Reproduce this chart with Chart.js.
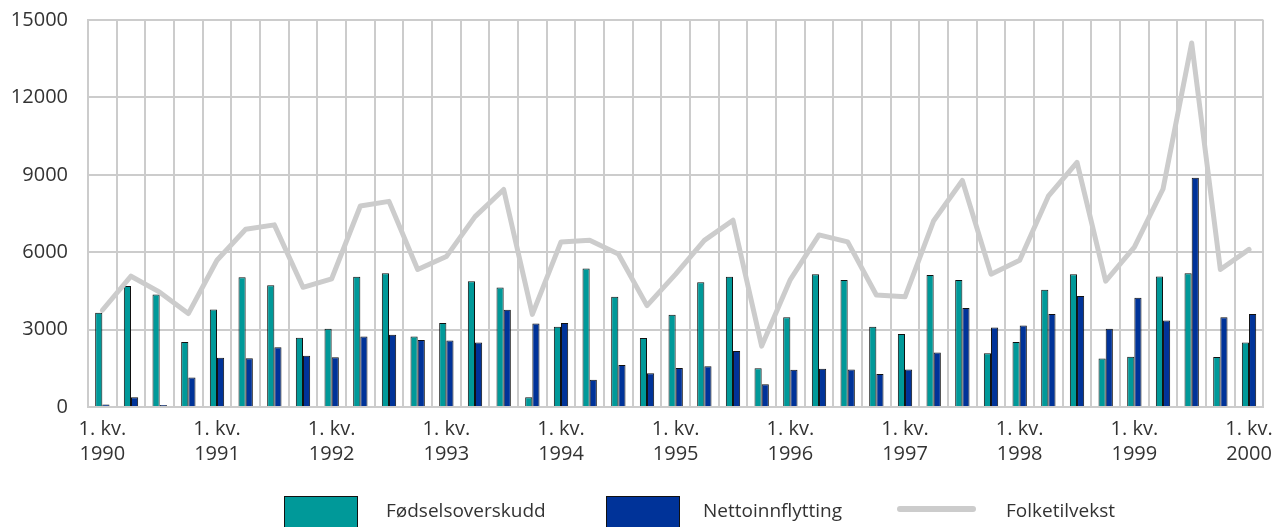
<!DOCTYPE html>
<html lang="no">
<head>
<meta charset="utf-8">
<title>Folketilvekst 1990-2000</title>
<script src="https://cdn.jsdelivr.net/npm/chart.js@4/dist/chart.umd.min.js"></script>
<style>
    body { margin: 0; background: #fff; }
    #wrap { position: relative; width: 1283px; height: 527px; overflow: hidden; }
    #legend { position: absolute; left: 0; top: 0; width: 1283px; height: 527px; pointer-events: none;
              font-family: 'Open Sans', sans-serif; font-size: 19px; color: #333; }
    .box { position: absolute; top: 496px; width: 74px; height: 40px; border: 1px solid #111; box-sizing: border-box; }
    .txt { position: absolute; top: 497px; line-height: 26px; white-space: nowrap; }
    .ln { position: absolute; top: 506px; height: 6px; border-radius: 3px; background: #cccccc; }
</style>
</head>
<body>
<div id="wrap">
    <canvas id="chart"></canvas>
    <div id="legend">
        <div class="box" style="left:284px;background:#009999"></div>
        <div class="txt" style="left:386px">Fødselsoverskudd</div>
        <div class="box" style="left:606px;background:#003399"></div>
        <div class="txt" style="left:703px">Nettoinnflytting</div>
        <div class="ln" style="left:897px;width:79px"></div>
        <div class="txt" style="left:1006px">Folketilvekst</div>
    </div>
</div>
<script>
// Kvartaler 1990 K1 - 2000 K1
const kvartaler = [
    '1990K1', '1990K2', '1990K3', '1990K4',
    '1991K1', '1991K2', '1991K3', '1991K4',
    '1992K1', '1992K2', '1992K3', '1992K4',
    '1993K1', '1993K2', '1993K3', '1993K4',
    '1994K1', '1994K2', '1994K3', '1994K4',
    '1995K1', '1995K2', '1995K3', '1995K4',
    '1996K1', '1996K2', '1996K3', '1996K4',
    '1997K1', '1997K2', '1997K3', '1997K4',
    '1998K1', '1998K2', '1998K3', '1998K4',
    '1999K1', '1999K2', '1999K3', '1999K4',
    '2000K1'
];

const fodselsoverskudd = [
    3650, 4690, 4360, 2520, 3780, 5030, 4720, 2680, 3030, 5050,
    5180, 2730, 3260, 4870, 4630, 380, 3110, 5370, 4270, 2670,
    3580, 4840, 5050, 1500, 3480, 5150, 4920, 3110, 2830, 5120,
    4920, 2080, 2520, 4540, 5150, 1880, 1950, 5060, 5180, 1940,
    2500
];

const nettoinnflytting = [
    100, 380, 80, 1140, 1910, 1890, 2320, 1990, 1930, 2730,
    2800, 2600, 2580, 2500, 3770, 3240, 3260, 1060, 1630, 1310,
    1510, 1580, 2170, 880, 1440, 1480, 1450, 1280, 1450, 2110,
    3840, 3080, 3160, 3600, 4300, 3030, 4230, 3350, 8890, 3480,
    3600
];

const folketilvekst = [
    3750, 5070, 4450, 3620, 5690, 6890, 7060, 4640, 4970, 7790,
    7970, 5330, 5830, 7380, 8430, 3590, 6400, 6460, 5930, 3930,
    5150, 6460, 7240, 2360, 4940, 6670, 6400, 4340, 4270, 7220,
    8780, 5150, 5690, 8170, 9480, 4880, 6200, 8450, 14110, 5330,
    6110
];

const yTicks = [0, 3000, 6000, 9000, 12000, 15000];

const gridColor = '#cccccc';
const textColor = '#333333';

// Etikett kun for 1. kvartal
function kvartalLabel(value, index) {
    const k = kvartaler[index];
    if (k.endsWith('K1')) {
        return ['1. kv.', k.slice(0, 4)];
    }
    return '';
}

const ctx = document.getElementById('chart').getContext('2d');

new Chart(ctx, {
    type: 'bar',
    data: {
        labels: kvartaler,
        datasets: [{
            label: 'Fødselsoverskudd',
            data: fodselsoverskudd,
            backgroundColor: '#009999',
            borderColor: '#111111',
            borderWidth: 1,
            order: 1
        }, {
            label: 'Nettoinnflytting',
            data: nettoinnflytting,
            backgroundColor: '#003399',
            borderColor: '#111111',
            borderWidth: 1,
            order: 1
        }, {
            type: 'line',
            label: 'Folketilvekst',
            data: folketilvekst,
            borderColor: gridColor,
            borderWidth: 5,
            borderJoinStyle: 'round',
            borderCapStyle: 'round',
            pointRadius: 0,
            tension: 0,
            order: 0
        }]
    },
    options: {
        responsive: true,
        maintainAspectRatio: false,
        animation: false,
        categoryPercentage: 0.5,
        barPercentage: 1.0,
        layout: {
            padding: { top: 20, right: 13, bottom: 0, left: 0 }
        },
        plugins: {
            legend: { display: false },
            tooltip: { enabled: false }
        },
        scales: {
            x: {
                offset: true,
                grid: {
                    offset: true,
                    color: gridColor,
                    lineWidth: 2,
                    drawTicks: false
                },
                border: { color: gridColor, width: 2 },
                ticks: {
                    autoSkip: false,
                    maxRotation: 0,
                    minRotation: 0,
                    padding: 10,
                    color: textColor,
                    font: { family: "'Open Sans', sans-serif", size: 20, lineHeight: 1.25 },
                    callback: kvartalLabel
                },
                afterFit: function(scale) { scale.height = 120; }
            },
            y: {
                min: 0,
                max: 15000,
                grid: {
                    color: gridColor,
                    lineWidth: 2,
                    drawTicks: false
                },
                border: { color: gridColor, width: 2 },
                afterBuildTicks: function(scale) {
                    scale.ticks = yTicks.map(v => ({ value: v }));
                },
                ticks: {
                    padding: 20,
                    color: textColor,
                    font: { family: "'Open Sans', sans-serif", size: 20 },
                    callback: function(value) { return String(value); }
                },
                afterFit: function(scale) {
                    scale.width = 88;
                    // tick-padding skal ikke skyve plottet ned
                    scale.paddingTop = 12;
                    scale.paddingBottom = 12;
                }
            }
        }
    }
});
</script>
</body>
</html>
